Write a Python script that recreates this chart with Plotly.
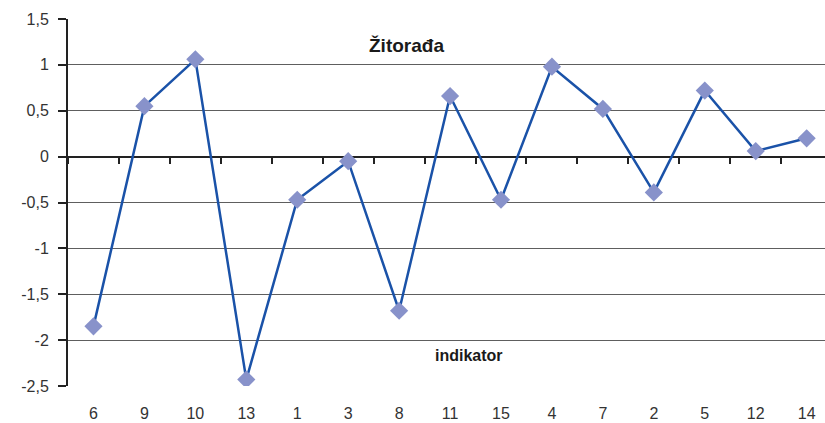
import plotly.graph_objects as go

# Indicator scores for Žitorađa, in plotted order
indikatori = ["6", "9", "10", "13", "1", "3", "8", "11", "15", "4", "7", "2", "5", "12", "14"]
vrednosti = [-1.85, 0.55, 1.06, -2.43, -0.47, -0.05, -1.68, 0.66, -0.47, 0.98, 0.52, -0.39, 0.72, 0.06, 0.20]

y_tickvals = [1.5, 1, 0.5, 0, -0.5, -1, -1.5, -2, -2.5]
y_ticktext = ["1,5", "1", "0,5", "0", "-0,5", "-1", "-1,5", "-2", "-2,5"]

font_family = "Liberation Sans, Arial, sans-serif"
x_range = [-0.5, 14.36]
marker_color = "#8892CA"

fig = go.Figure()

fig.add_trace(go.Scatter(
    x=indikatori, y=vrednosti,
    mode="lines+markers",
    line=dict(color="#1A52A8", width=2.5),
    marker=dict(symbol="diamond", size=14, color=marker_color, line=dict(width=0)),
    hoverinfo="x+y",
    showlegend=False,
))

# invisible copy on a second x axis that carries the category ticks along y = 0
fig.add_trace(go.Scatter(
    x=indikatori, y=vrednosti, xaxis="x2",
    mode="markers", marker=dict(opacity=0), hoverinfo="skip", showlegend=False,
))

fig.update_layout(
    width=825, height=423,
    margin=dict(l=68, r=0, t=19, b=37),
    paper_bgcolor="white", plot_bgcolor="white",
    font=dict(family=font_family, color="#333333", size=16),
    xaxis=dict(
        type="category", range=x_range,
        showgrid=False, showline=False, zeroline=False, ticks="",
        ticklabelstandoff=16,
        tickfont=dict(size=16, color="#333333"),
    ),
    xaxis2=dict(
        type="category", range=x_range, overlaying="x",
        anchor="free", position=0.625,
        showline=False, showgrid=False, zeroline=False,
        ticks="outside", tickson="boundaries", ticklen=6, tickwidth=1.5, tickcolor="#222222",
        showticklabels=False,
    ),
    yaxis=dict(
        range=[-2.5, 1.5],
        tickvals=y_tickvals, ticktext=y_ticktext,
        showgrid=True, gridcolor="#5e5e5e", gridwidth=1,
        zeroline=True, zerolinecolor="#222222", zerolinewidth=2,
        showline=True, linecolor="#222222", linewidth=2,
        ticks="outside", ticklen=8, tickcolor="#222222", tickwidth=1.5,
        ticklabelstandoff=6,
        tickfont=dict(size=16, color="#333333"),
    ),
    annotations=[
        dict(text="<b>Žitorađa</b>", x=406, y=45, xref="paper", yref="paper",
             xanchor="center", yanchor="middle",
             showarrow=False, font=dict(size=19, color="#1a1a1a")),
        dict(text="<b>indikator</b>", x=469, y=355, xref="paper", yref="paper",
             xanchor="center", yanchor="middle",
             showarrow=False, font=dict(size=16, color="#1a1a1a")),
    ],
)

# annotation positions given in pixels are converted to paper fractions
plot_w = 825 - 68
plot_h = 423 - 19 - 37
for ann in fig.layout.annotations:
    ann.x = (ann.x - 68) / plot_w
    ann.y = (423 - 37 - ann.y) / plot_h

fig.write_html("out.html")
